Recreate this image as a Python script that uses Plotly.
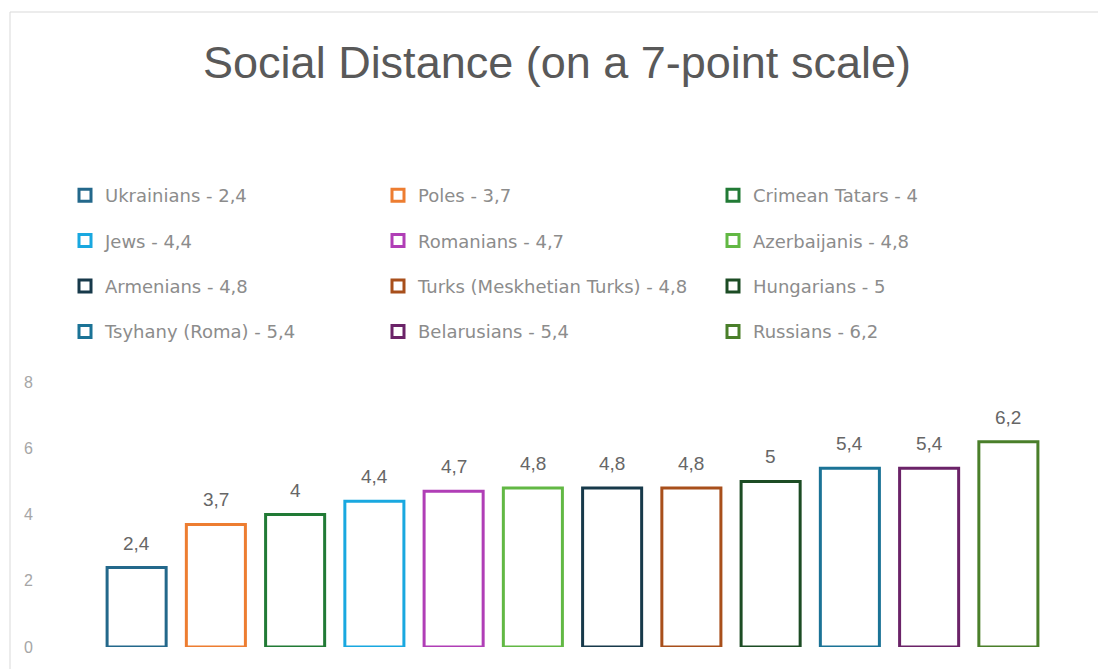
import plotly.graph_objects as go

categories = ["Ukrainians", "Poles", "Crimean Tatars", "Jews", "Romanians", "Azerbaijanis",
              "Armenians", "Turks (Meskhetian Turks)", "Hungarians", "Tsyhany (Roma)",
              "Belarusians", "Russians"]
values = [2.4, 3.7, 4.0, 4.4, 4.7, 4.8, 4.8, 4.8, 5.0, 5.4, 5.4, 6.2]
colors = ["#23688b", "#ed7d31", "#217a35", "#19a8e0", "#b03eb6", "#62b844",
          "#17394a", "#a84f1b", "#1c4c24", "#1b7396", "#6b2368", "#4a7f2a"]
y_ticks = [0, 2, 4, 6, 8]


def fmt(v):
    return f"{v:g}".replace(".", ",")


W, H = 1098, 669
PL, PR, PT, PB = 97, 1048, 382, 647


def px_x(px):
    return (px - PL) / (PR - PL)


def px_y(py):
    return (PB - py) / (PB - PT)


fig = go.Figure()
legend_ids = ["legend", "legend2", "legend3"]
for i, (cat, val, col) in enumerate(zip(categories, values, colors)):
    fig.add_trace(go.Bar(
        x=[i], y=[val], name=f"{cat} - {fmt(val)}",
        marker=dict(color="white", line=dict(color=col, width=3)),
        legend=legend_ids[i % 3], legendgroup=cat,
        hoverinfo="skip",
    ))
    fig.add_annotation(x=i, y=val, text=fmt(val), showarrow=False,
                       yanchor="bottom", yshift=12,
                       font=dict(family="Liberation Sans", size=19, color="#666666"))

leg_font = dict(family="DejaVu Sans", size=18, color="#8c8c8c")
leg_common = dict(xref="paper", yref="paper", xanchor="left", yanchor="top",
                  orientation="v", font=leg_font, tracegroupgap=19,
                  bgcolor="rgba(0,0,0,0)", itemclick=False, itemdoubleclick=False)
lx = [65, 378, 713]
ly = px_y(177)

fig.update_layout(
    width=W, height=H,
    paper_bgcolor="white", plot_bgcolor="white",
    margin=dict(l=PL, r=W - PR, t=PT, b=H - PB, autoexpand=False),
    barmode="overlay", bargap=0.255,
    separators=", ",
    title=dict(text="Social Distance (on a 7-point scale)", x=557 / W, xref="container",
               y=1 - 62 / H, yref="container", xanchor="center", yanchor="middle",
               font=dict(family="Liberation Sans", size=45, color="#595959")),
    xaxis=dict(range=[-0.5, 11.5], showticklabels=False, showgrid=False, zeroline=False,
               showline=False, ticks="", fixedrange=True),
    yaxis=dict(range=[0, 8], tickvals=y_ticks, ticktext=[str(t) for t in y_ticks],
               showgrid=False, zeroline=False, showline=False, ticks="",
               ticklabelstandoff=63, fixedrange=True,
               tickfont=dict(family="Liberation Sans", size=16, color="#a6a6a6")),
    legend=dict(x=px_x(lx[0]), y=ly, **leg_common),
    legend2=dict(x=px_x(lx[1]), y=ly, **leg_common),
    legend3=dict(x=px_x(lx[2]), y=ly, **leg_common),
    showlegend=True,
)

# chart border (light grey frame)
fig.add_shape(type="rect", xref="paper", yref="paper",
              x0=px_x(10), x1=px_x(1110), y0=px_y(690), y1=px_y(12),
              line=dict(color="#d9d9d9", width=1), fillcolor="rgba(0,0,0,0)", layer="below")

fig.write_html("out.html", config={"displayModeBar": False},
               post_script="document.body.style.margin='0';")
